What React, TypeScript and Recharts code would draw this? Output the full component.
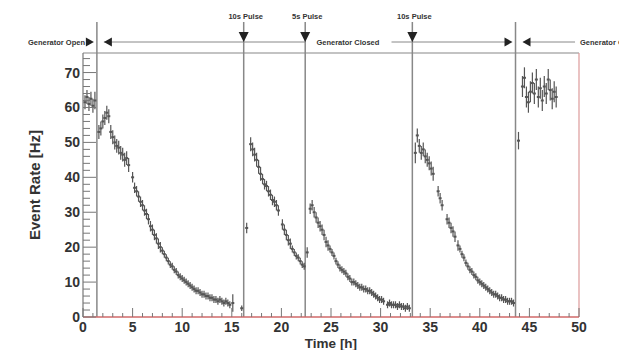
import {
  ScatterChart,
  Scatter,
  XAxis,
  YAxis,
  ErrorBar,
  ReferenceLine,
  ReferenceDot,
} from 'recharts'

// [time (h), rate (Hz), error (Hz)]
type Pt = [number, number, number]

const OPEN_START: Pt[] = [
  [0.2, 61.5, 2], [0.4, 63, 2], [0.6, 61, 2], [0.8, 62.5, 2], [1.0, 60.5, 2], [1.2, 62, 2.5],
]

const FIRST_DECAY: Pt[] = [
  [1.6, 53, 2], [1.8, 54, 2], [2.0, 56, 2], [2.2, 57, 2], [2.4, 58.5, 2], [2.6, 57.5, 2],
  [2.8, 53, 2], [3.0, 51.5, 2], [3.2, 50, 2], [3.4, 49, 2], [3.6, 48.5, 2], [3.8, 47, 2],
  [4.0, 46.5, 2], [4.2, 45, 2], [4.4, 45.5, 2], [4.6, 43.5, 2],
  [5.0, 40, 1.5], [5.2, 37, 1.5], [5.4, 36, 1.5], [5.6, 34.5, 1.5], [5.8, 33, 1.5], [6.0, 32, 1.5],
  [6.2, 30.5, 1.5], [6.4, 29.5, 1.5], [6.6, 28, 1.5], [6.8, 26, 1.5], [7.0, 25, 1.5], [7.2, 23.5, 1.5],
  [7.4, 22.5, 1.5], [7.6, 21, 1.5], [7.8, 20, 1.5],
  [8.0, 19, 1], [8.2, 18, 1], [8.4, 17, 1], [8.6, 16, 1], [8.8, 15, 1], [9.0, 14.5, 1],
  [9.2, 13.5, 1], [9.4, 13, 1], [9.6, 12, 1], [9.8, 11.5, 1], [10.0, 11, 1], [10.2, 10.5, 1],
  [10.4, 10, 1], [10.6, 9.5, 1], [10.8, 9, 1], [11.0, 8.5, 1], [11.2, 8, 1], [11.4, 7.5, 1],
  [11.6, 7.5, 1], [11.8, 7, 1], [12.0, 6.5, 1], [12.2, 6.5, 1], [12.4, 6, 1], [12.6, 6, 1],
  [12.8, 5.5, 1], [13.0, 5.5, 1], [13.2, 5, 1], [13.4, 5, 1], [13.6, 4.5, 1], [13.8, 5, 1],
  [14.0, 4.5, 1], [14.2, 4, 1], [14.4, 4.5, 1], [14.6, 4, 1], [14.8, 3.5, 1], [15.1, 4, 2.5],
  [16.0, 2.5, 0.8],
]

const SECOND_DECAY: Pt[] = [
  [16.5, 25.5, 1.5], [16.9, 49.5, 2], [17.1, 48, 2], [17.3, 46.5, 2], [17.5, 45, 2], [17.7, 43, 2],
  [17.9, 41, 2], [18.1, 39.5, 1.5], [18.3, 38, 1.5], [18.5, 37.5, 1.5], [18.7, 36, 1.5],
  [18.9, 35, 1.5], [19.1, 33.5, 1.5], [19.3, 33, 1.5], [19.5, 32, 1.5], [19.7, 30.5, 1.5],
  [20.1, 26.5, 1.5], [20.3, 25, 1.5], [20.5, 23.5, 1.5], [20.7, 22, 1.5], [20.9, 21, 1.5],
  [21.1, 19.5, 1], [21.3, 18.5, 1], [21.5, 17.5, 1], [21.7, 17, 1], [21.9, 16, 1], [22.1, 15, 1],
  [22.3, 14.5, 1],
]

const THIRD_DECAY: Pt[] = [
  [22.6, 18.5, 1.5], [22.9, 31, 1.5], [23.1, 32, 1.5], [23.3, 30, 1.5], [23.5, 28.5, 1.5],
  [23.7, 27, 1.5], [23.9, 26, 1.5], [24.1, 25, 1.5], [24.3, 23.5, 1.5], [24.5, 21.5, 1.5],
  [24.7, 20.5, 1.5], [24.9, 19.5, 1], [25.1, 18.5, 1], [25.3, 17.5, 1], [25.5, 16, 1],
  [25.7, 15, 1], [25.9, 14, 1], [26.1, 13.5, 1], [26.3, 13, 1], [26.5, 12.5, 1], [26.7, 11.5, 1],
  [26.9, 11, 1], [27.1, 10, 1], [27.3, 10, 1], [27.5, 9.5, 1], [27.7, 9, 1], [27.9, 8.5, 1],
  [28.1, 8.5, 1], [28.3, 8, 1], [28.5, 8, 1], [28.7, 7.5, 1], [28.9, 7.5, 1], [29.1, 7, 1],
  [29.3, 6.5, 1], [29.5, 6, 1], [29.7, 5.5, 1], [29.9, 5, 1], [30.1, 5, 1], [30.3, 4.5, 1],
  [30.7, 3.5, 1], [30.9, 4, 1], [31.1, 3.5, 1], [31.3, 3.5, 1], [31.5, 3.5, 1], [31.7, 3, 1],
  [31.9, 3.5, 1], [32.1, 3, 1], [32.3, 3, 1], [32.5, 2.5, 1], [32.7, 3, 1], [32.9, 2.5, 1],
]

const FOURTH_DECAY: Pt[] = [
  [33.5, 47, 3], [33.7, 52, 2], [33.9, 49, 2], [34.1, 47, 2], [34.3, 48, 2], [34.5, 46, 2],
  [34.7, 45, 2], [34.9, 44, 2], [35.1, 42.5, 2], [35.3, 41, 2], [35.8, 36, 1.5], [36.0, 34, 1.5],
  [36.2, 32, 1.5], [36.7, 28, 1.5], [36.9, 27, 1.5], [37.1, 25.5, 1.5], [37.3, 24.5, 1.5],
  [37.5, 23, 1.5], [37.8, 20.5, 1.5], [38.0, 19.5, 1], [38.2, 18, 1], [38.4, 17, 1],
  [38.6, 15.5, 1], [38.8, 14.5, 1], [39.0, 13.5, 1], [39.2, 13, 1], [39.4, 12, 1], [39.6, 11.5, 1],
  [39.8, 10.5, 1], [40.0, 10, 1], [40.2, 9.5, 1], [40.4, 9, 1], [40.6, 8.5, 1], [40.8, 8, 1],
  [41.0, 7.5, 1], [41.2, 7, 1], [41.4, 6.5, 1], [41.6, 6.5, 1], [41.8, 6, 1], [42.0, 5.5, 1],
  [42.2, 5.5, 1], [42.4, 5, 1], [42.6, 5, 1], [42.8, 4.5, 1], [43.0, 4.5, 1], [43.2, 4.5, 1],
  [43.4, 4, 1],
]

const OPEN_END: Pt[] = [
  [43.9, 50.5, 2.5], [44.3, 66, 3], [44.5, 68.5, 3], [44.7, 63, 3], [44.9, 61.5, 3],
  [45.1, 64.5, 3], [45.3, 67, 3], [45.5, 64, 3], [45.7, 68, 3], [45.9, 63, 3], [46.1, 65.5, 3],
  [46.3, 62, 3], [46.5, 66, 3], [46.7, 64, 3], [46.9, 68, 3], [47.1, 65, 3], [47.3, 62.5, 3],
  [47.5, 64.5, 3], [47.7, 63, 3],
]

const X_TICKS = [
  0, 1, 2, 3, 4, 5, 6, 7, 8, 9, 10, 11, 12, 13, 14, 15, 16, 17, 18, 19, 20, 21, 22, 23, 24, 25,
  26, 27, 28, 29, 30, 31, 32, 33, 34, 35, 36, 37, 38, 39, 40, 41, 42, 43, 44, 45, 46, 47, 48, 49, 50,
]
const Y_TICKS = [
  0, 2, 4, 6, 8, 10, 12, 14, 16, 18, 20, 22, 24, 26, 28, 30, 32, 34, 36, 38, 40, 42, 44, 46, 48,
  50, 52, 54, 56, 58, 60, 62, 64, 66, 68, 70, 72, 74,
]
const Y_MAX = 75.6

const GENERATOR_SWITCHES = [1.4, 43.6]
const PULSE_TIMES = [16.2, 22.4, 33.2]
const PULSE_LABELS = ['10s Pulse', '5s Pulse', '10s Pulse']
const ARROW_SPANS = [[2.1, 22.4], [31.1, 43.0], [44.4, 49.6]]
const CLOSED_LABEL_AT = 26.7

// annotation levels above the frame, in rate units
const ARROW_LEVEL = 78.75
const LINE_TOP = 84.5

const FONT = '"Liberation Sans", Arial, Helvetica, sans-serif'

const points = [...OPEN_START, ...FIRST_DECAY, ...SECOND_DECAY, ...THIRD_DECAY, ...FOURTH_DECAY, ...OPEN_END]
  .map(([t, v, e]) => ({ t, v, e }))

const XTick = (props: any) => {
  const { x, y, payload } = props
  const major = payload.value % 5 === 0
  return (
    <g>
      <line x1={x} x2={x} y1={y} y2={y - (major ? 9 : 4)} stroke="#777" />
      {major && (
        <text x={x} y={y + 15} textAnchor="middle" fontSize={14} fontWeight="bold" fontFamily={FONT} fill="#333">
          {payload.value}
        </text>
      )}
    </g>
  )
}

const YTick = (props: any) => {
  const { x, y, payload } = props
  const major = payload.value % 10 === 0
  return (
    <g>
      <line x1={x} x2={x + (major ? 13 : 7)} y1={y} y2={y} stroke="#777" />
      {major && (
        <text x={x - 3} y={y + 5} textAnchor="end" fontSize={14} fontWeight="bold" fontFamily={FONT} fill="#333">
          {payload.value}
        </text>
      )}
    </g>
  )
}

const Marker = (props: any) => {
  const { cx, cy } = props
  return <rect x={cx - 1.5} y={cy - 1} width={3} height={2} fill="#555" />
}

const smallText = { fontSize: 7.5, fontWeight: 'bold', fontFamily: FONT, fill: '#333' } as const

export default function App() {
  return (
    <div style={{ position: 'absolute', left: 0, top: 0, background: '#fff' }}>
      <ScatterChart width={619} height={350} margin={{ top: 53, right: 40, bottom: 3, left: 33 }}>
        <XAxis
          type="number"
          dataKey="t"
          domain={[0, 50]}
          allowDataOverflow
          ticks={X_TICKS}
          interval={0}
          tickSize={0}
          tickMargin={0}
          tick={XTick}
          height={30}
          axisLine={{ stroke: '#d06868', strokeWidth: 1.5 }}
          label={{
            content: (p: any) => (
              <text
                x={p.viewBox.x + p.viewBox.width / 2}
                y={p.viewBox.y + 31}
                textAnchor="middle"
                fontSize={13.5}
                fontWeight="bold"
                fontFamily={FONT}
                fill="#333"
              >
                Time [h]
              </text>
            ),
          }}
        />
        <YAxis
          type="number"
          dataKey="v"
          domain={[0, Y_MAX]}
          allowDataOverflow
          ticks={Y_TICKS}
          interval={0}
          tickSize={0}
          tickMargin={0}
          tick={YTick}
          width={50}
          axisLine={{ stroke: '#777', strokeWidth: 1.2 }}
          label={{
            content: (p: any) => {
              const x = p.viewBox.x + 7
              const y = p.viewBox.y + p.viewBox.height / 2
              return (
                <text
                  x={x}
                  y={y}
                  transform={`rotate(-90, ${x}, ${y})`}
                  textAnchor="middle"
                  fontSize={15}
                  fontWeight="bold"
                  fontFamily={FONT}
                  fill="#333"
                >
                  Event Rate [Hz]
                </text>
              )
            },
          }}
        />

        {/* frame */}
        <ReferenceLine y={Y_MAX} stroke="#888" strokeWidth={1.2} />
        <ReferenceLine x={50} stroke="#dc9a9a" strokeWidth={1.2} />

        {/* generator switches and pulses */}
        {[...GENERATOR_SWITCHES, ...PULSE_TIMES].map(t => (
          <ReferenceLine
            key={`v-${t}`}
            segment={[{ x: t, y: 0 }, { x: t, y: LINE_TOP }]}
            ifOverflow="visible"
            stroke="#888"
            strokeWidth={1.5}
          />
        ))}
        {ARROW_SPANS.map(([a, b]) => (
          <ReferenceLine
            key={`h-${a}`}
            segment={[{ x: a, y: ARROW_LEVEL }, { x: b, y: ARROW_LEVEL }]}
            ifOverflow="visible"
            stroke="#888"
            strokeWidth={1}
          />
        ))}
        {GENERATOR_SWITCHES.map(t => (
          <ReferenceDot
            key={`s-${t}`}
            x={t}
            y={ARROW_LEVEL}
            ifOverflow="visible"
            shape={(p: any) => (
              <g fill="#222">
                <polygon points={`${p.cx - 11},${p.cy - 4.5} ${p.cx - 11},${p.cy + 4.5} ${p.cx - 3},${p.cy}`} />
                <polygon points={`${p.cx + 15},${p.cy - 4.5} ${p.cx + 15},${p.cy + 4.5} ${p.cx + 7},${p.cy}`} />
              </g>
            )}
          />
        ))}
        {PULSE_TIMES.map((t, i) => (
          <ReferenceDot
            key={`p-${t}`}
            x={t}
            y={ARROW_LEVEL}
            ifOverflow="visible"
            shape={(p: any) => (
              <g>
                <polygon points={`${p.cx - 5},${p.cy - 10} ${p.cx + 5},${p.cy - 10} ${p.cx},${p.cy}`} fill="#222" />
                <text x={p.cx + 2} y={p.cy - 23} textAnchor="middle" {...smallText}>
                  {PULSE_LABELS[i]}
                </text>
              </g>
            )}
          />
        ))}
        <ReferenceDot
          x={0}
          y={ARROW_LEVEL}
          ifOverflow="visible"
          shape={(p: any) => (
            <text x={p.cx + 2} y={p.cy + 2.5} textAnchor="end" {...smallText}>Generator Open</text>
          )}
        />
        <ReferenceDot
          x={CLOSED_LABEL_AT}
          y={ARROW_LEVEL}
          ifOverflow="visible"
          shape={(p: any) => (
            <text x={p.cx} y={p.cy + 2.5} textAnchor="middle" {...smallText}>Generator Closed</text>
          )}
        />
        <ReferenceDot
          x={50}
          y={ARROW_LEVEL}
          ifOverflow="visible"
          shape={(p: any) => (
            <text x={p.cx + 1} y={p.cy + 2.5} textAnchor="start" {...smallText}>Generator Open</text>
          )}
        />

        <Scatter data={points} shape={Marker} isAnimationActive={false}>
          <ErrorBar dataKey="e" direction="y" width={0} stroke="#555" strokeWidth={1.2} isAnimationActive={false} />
        </Scatter>
      </ScatterChart>
    </div>
  )
}
